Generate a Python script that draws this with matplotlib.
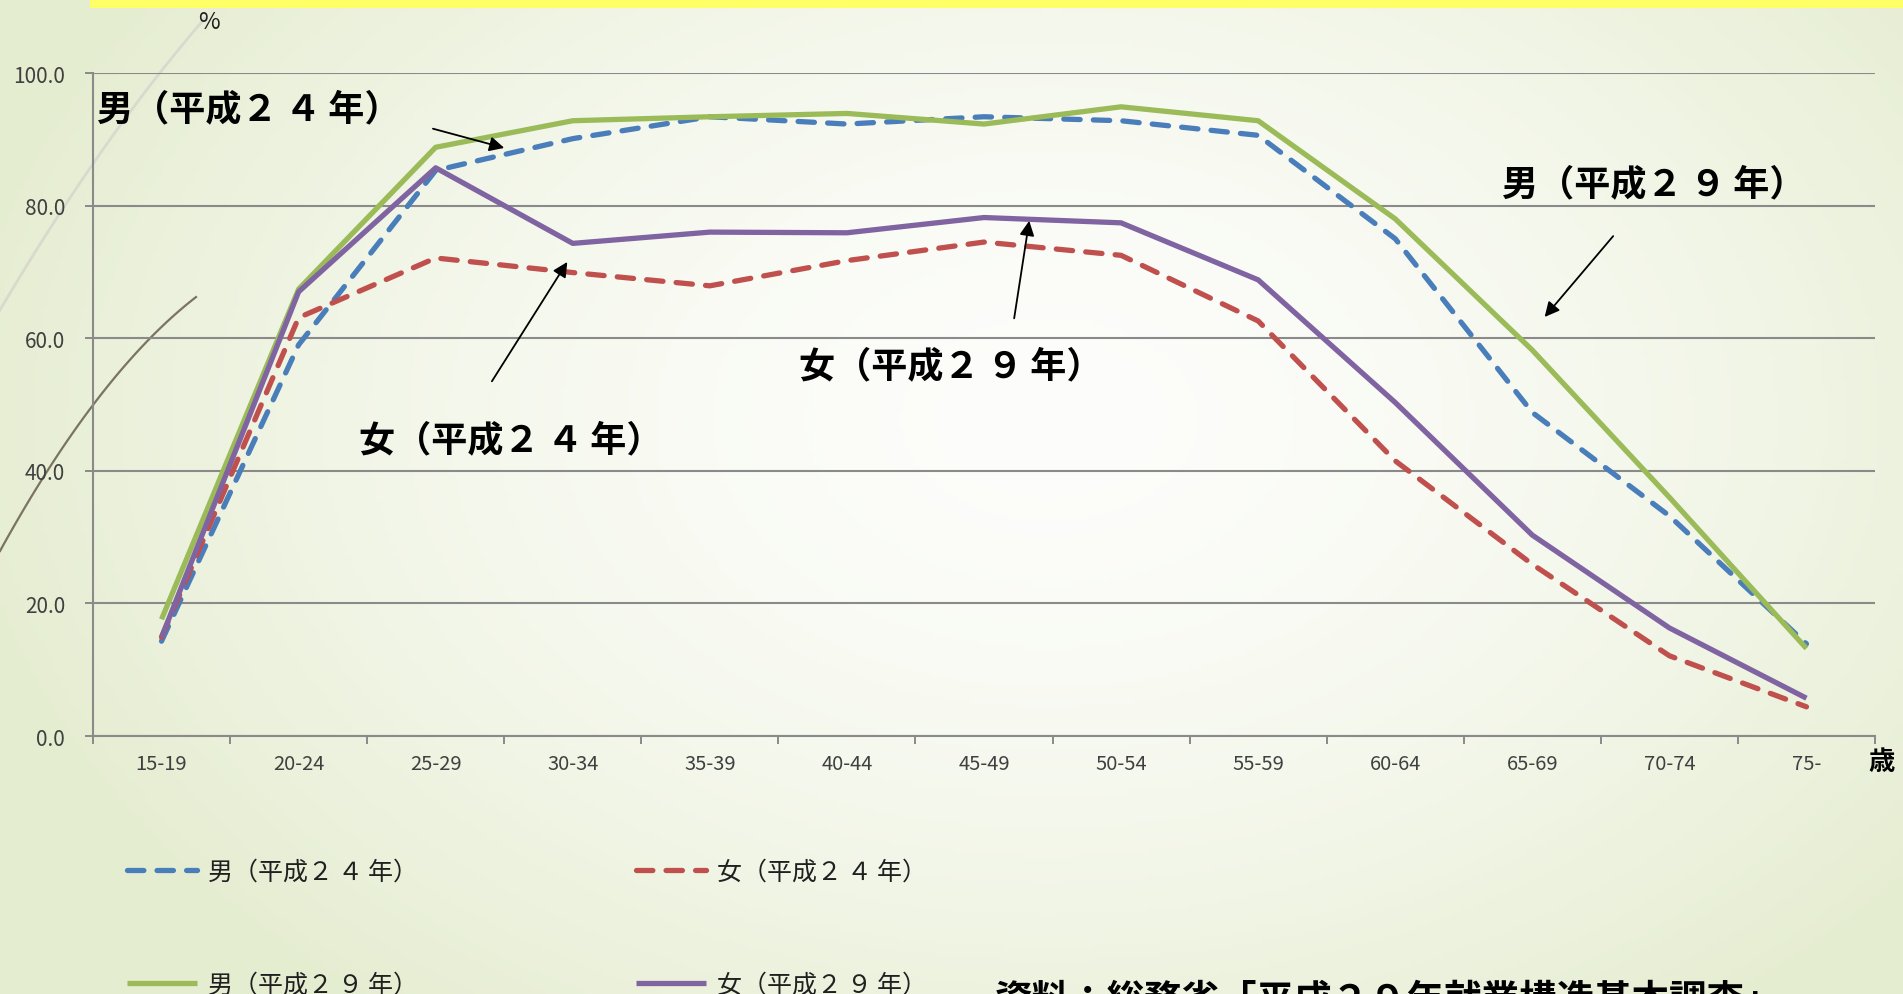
import matplotlib.pyplot as plt
import numpy as np

plt.rcParams["font.family"] = ["Noto Sans CJK JP", "DejaVu Sans"]

# age groups and employment rate (%)
ages = ["15-19", "20-24", "25-29", "30-34", "35-39", "40-44", "45-49",
        "50-54", "55-59", "60-64", "65-69", "70-74", "75-"]
male_h24 = [14.3, 59.0, 85.3, 90.1, 93.4, 92.3, 93.4, 92.8, 90.6, 75.0, 48.8, 33.2, 13.9]
female_h24 = [14.9, 63.1, 72.1, 69.9, 67.9, 71.7, 74.5, 72.5, 62.6, 41.5, 25.9, 12.1, 4.4]
male_h29 = [17.6, 67.4, 88.8, 92.8, 93.4, 93.9, 92.3, 94.9, 92.8, 78.0, 58.2, 36.0, 13.2]
female_h29 = [14.9, 67.0, 85.7, 74.3, 76.0, 75.9, 78.2, 77.4, 68.8, 50.3, 30.3, 16.3, 5.7]
yticks = [0, 20, 40, 60, 80, 100]

sp = "\u2009"
labels = [f"男（平成２{sp}４{sp}年）", f"女（平成２{sp}４{sp}年）",
          f"男（平成２{sp}９{sp}年）", f"女（平成２{sp}９{sp}年）"]
colors = ["#4A7EBB", "#C0504D", "#9BBB59", "#8064A2"]

W, H = 1903, 995
fig = plt.figure(figsize=(W / 100, H / 100), dpi=100)

# background: radial gradient, yellow bar, decorative curves
bg = fig.add_axes([0, 0, 1, 1], zorder=-10)
gx, gy = np.meshgrid(np.linspace(0, W, 400), np.linspace(0, H, 220))
r = np.sqrt(((gx - 1050) / 1100) ** 2 + ((gy - 420) / 750) ** 2)
r = np.clip(r, 0, 1)
c_in = np.array([0.992, 0.994, 0.985])
c_out = np.array([0.90, 0.93, 0.82])
img = c_in[None, None, :] * (1 - r[..., None] ** 1.6) + c_out[None, None, :] * r[..., None] ** 1.6
bg.imshow(img, extent=[0, W, H, 0], aspect="auto")
bg.set_xlim(0, W)
bg.set_ylim(H, 0)
bg.axis("off")
bg.add_patch(plt.Rectangle((90, 0), W - 90, 9, color="#FFFF66", lw=0))
cx = np.linspace(0, 205, 60)
bg.plot(cx, 311 - 1.696 * cx + 0.00133 * cx ** 2, color="#D8DACE", lw=2)
cx = np.linspace(0, 196, 60)
bg.plot(cx, 552 - 1.817 * cx + 0.00266 * cx ** 2, color="#7A7460", lw=1.6)

ax = fig.add_axes([93 / W, 1 - 737 / H, (1875 - 93) / W, (737 - 74) / H])
ax.set_facecolor("none")
x = np.arange(len(ages))

lw = 3.8
dash = (0, (3.1, 2.5))
series = [male_h24, female_h24, male_h29, female_h29]
styles = [dash, dash, "-", "-"]
lines = []
for vals, c, ls, lab in zip(series, colors, styles, labels):
    ln, = ax.plot(x, vals, color=c, lw=lw, ls=ls, label=lab,
                  dash_capstyle="round", solid_capstyle="butt", zorder=3)
    lines.append(ln)

ax.set_xlim(-0.5, len(ages) - 0.5)
ax.set_ylim(0, 100)
ax.set_yticks(yticks)
ax.set_yticklabels([f"{v:.1f}" for v in yticks])
ax.set_xticks(np.arange(-0.5, len(ages)), minor=False)
ax.set_xticklabels([])
ax.set_xticks(x, minor=True)
ax.set_xticklabels(ages, minor=True)
ax.tick_params(axis="x", which="major", length=6, width=1.4, color="#8a8a8a")
ax.tick_params(axis="x", which="minor", length=0, pad=12, labelsize=14.5, labelcolor="#404040")
ax.tick_params(axis="y", length=6, width=1.4, color="#8a8a8a", pad=14,
               labelsize=15, labelcolor="#404040")
ax.grid(axis="y", color="#8a8a8a", lw=1.5)
ax.set_axisbelow(True)
for s in ["top", "right"]:
    ax.spines[s].set_visible(False)
for s in ["left", "bottom"]:
    ax.spines[s].set_color("#8a8a8a")
    ax.spines[s].set_linewidth(1.5)

# annotations
txt = dict(fontsize=26, fontweight="bold", ha="left", va="center", clip_on=False)
ax.text(-0.47, 94.6, labels[0], **txt)
ax.text(9.78, 83.3, labels[2], **txt)
ax.text(4.65, 55.9, labels[3], **txt)
ax.text(1.44, 44.7, labels[1], **txt)
arr = dict(arrowstyle="-|>", mutation_scale=22, lw=1.3, color="black", shrinkA=0, shrinkB=0)
ax.annotate("", xy=(2.50, 88.7), xytext=(1.98, 91.6), arrowprops=arr)
ax.annotate("", xy=(2.96, 71.5), xytext=(2.41, 53.5), arrowprops=arr)
ax.annotate("", xy=(6.33, 77.7), xytext=(6.22, 63.0), arrowprops=arr)
ax.annotate("", xy=(10.09, 63.2), xytext=(10.59, 75.4), arrowprops=arr)

fig.text(209 / W, 1 - 23 / H, "%", fontsize=17, ha="center", va="center", color="#202020")
fig.text(1882 / W, 1 - 762 / H, "歳", fontsize=19, fontweight="bold", ha="center", va="center")

leg = fig.legend([lines[0], lines[2], lines[1], lines[3]],
                 [labels[0], labels[2], labels[1], labels[3]],
                 ncol=2, loc="upper left", bbox_to_anchor=(127 / W, 1 - 860 / H),
                 frameon=False, fontsize=18, handlelength=2.8, handletextpad=0.45,
                 labelspacing=3.45, columnspacing=8.7, borderpad=0, borderaxespad=0)
for t_ in leg.get_texts():
    t_.set_color("#202020")

fig.text(995 / W, 1 - 981 / H, "資料：総務省「平成２９年就業構造基本調査」",
         fontsize=27, fontweight="bold", ha="left", va="top")

fig.savefig("out.png", dpi=100)
